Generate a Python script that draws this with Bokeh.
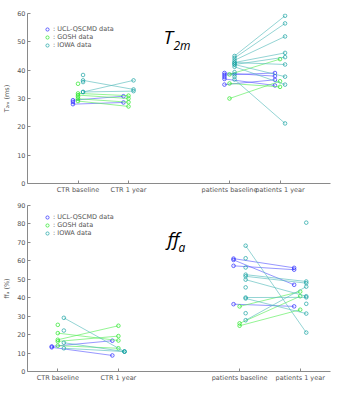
import math
from bokeh.plotting import figure
from bokeh.layouts import column
from bokeh.models import Label, Legend, LegendItem, FixedTicker
from bokeh.embed import file_html
from bokeh.resources import INLINE

nan = float("nan")

# ---- data ----
sites = ["UCL-QSCMD", "GOSH", "IOWA"]
xtick_pos = [1, 2, 4, 5]
xtick_labels = ["CTR baseline", "CTR 1 year", "patients baseline", "patients 1 year"]

# T2m (ms)
t2m_ucl_ctr_base = [29.4, 28.0, 28.8]
t2m_ucl_ctr_1y = [30.8, 28.6, nan]
t2m_gosh_ctr_base = [31.8, 31.2, 29.9, 29.1, 35.2, 30.6]
t2m_gosh_ctr_1y = [31.0, 30.0, 28.7, 27.2, nan, nan]
t2m_iowa_ctr_base = [36.4, 32.3, 32.3, 38.3, 35.8]
t2m_iowa_ctr_1y = [33.2, 36.4, 32.6, nan, nan]
t2m_ucl_pat_base = [39.0, 38.3, 36.9, 34.9, 37.6]
t2m_ucl_pat_1y = [37.9, 39.0, 34.6, 36.6, nan]
t2m_gosh_pat_base = [38.5, 35.3, 30.0]
t2m_gosh_pat_1y = [43.9, 34.1, 36.1]
t2m_iowa_pat_base = [45.0, 44.3, 43.5, 42.7, 42.0, 42.7, 42.0, 41.2, 36.7, 39.3, 38.5, 37.7]
t2m_iowa_pat_1y = [59.2, 56.5, 51.9, 46.1, 44.6, 42.0, 37.7, 34.9, 21.2, nan, nan, nan]

# ff_a (%)
ffa_ucl_ctr_base = [13.6, 13.1]
ffa_ucl_ctr_1y = [16.7, 8.7]
ffa_gosh_ctr_base = [17.2, 20.8, 14.0, 25.3, 16.3]
ffa_gosh_ctr_1y = [24.8, 16.8, 12.6, nan, 19.2]
ffa_iowa_ctr_base = [29.1, 15.6, 12.6, 22.2]
ffa_iowa_ctr_1y = [10.8, 10.8, 10.8, nan]
ffa_ucl_pat_base = [61.2, 57.3, 60.5, 36.5]
ffa_ucl_pat_1y = [56.2, 55.2, 47.0, 35.3]
ffa_gosh_pat_base = [35.3, 26.1, 24.8]
ffa_gosh_pat_1y = [43.3, 40.8, 33.5]
ffa_iowa_pat_base = [68.2, 52.5, 51.6, 49.8, 40.1, 39.6, 27.8, 61.4, 56.4, 45.6, 31.6, nan, nan]
ffa_iowa_pat_1y = [21.1, 48.8, 47.9, 40.8, 40.2, 31.4, 46.0, nan, nan, nan, nan, 80.7, 36.7]

# ---- style ----
offsets = [-0.1, 0.0, 0.1]
colors = ["#2020ff", "#1ee61e", "#10a0a0"]
line_colors = ["#5a5aff", "#55ee55", "#55bbbb"]
FONT = "DejaVu Sans"
AX_COL = "#8a8a8a"
TXT_COL = "#555555"


def make_panel(data, y_end, y_label, x_range, title_main, title_sub, title_pos,
               height, b_top, b_bottom, legend_vy):
    p = figure(width=338, height=height, title=None,
               x_range=x_range, y_range=(0, y_end),
               output_backend="svg", toolbar_location=None,
               min_border_left=22, min_border_right=8,
               min_border_top=b_top, min_border_bottom=b_bottom)
    p.outline_line_color = None
    p.xgrid.visible = False
    p.ygrid.visible = False
    for ax in (p.xaxis[0], p.yaxis[0]):
        ax.axis_line_color = AX_COL
        ax.major_tick_line_color = AX_COL
        ax.major_tick_in = 3
        ax.major_tick_out = 0
        ax.minor_tick_out = 0
        ax.minor_tick_in = 0
        ax.minor_tick_line_color = None
        ax.major_label_text_font = FONT
        ax.major_label_text_font_size = "6.5px"
        ax.major_label_text_color = TXT_COL
        ax.major_label_standoff = 2
    p.xaxis.ticker = FixedTicker(ticks=xtick_pos)
    p.xaxis.major_label_overrides = {k: v for k, v in zip(xtick_pos, xtick_labels)}
    p.yaxis.ticker = FixedTicker(ticks=list(range(0, y_end + 1, 10)))
    p.yaxis.axis_label = y_label
    p.yaxis.axis_label_text_font = FONT
    p.yaxis.axis_label_text_font_size = "6.5px"
    p.yaxis.axis_label_text_font_style = "normal"
    p.yaxis.axis_label_text_color = TXT_COL
    p.yaxis.axis_label_standoff = 3

    items = []
    for si, site in enumerate(sites):
        off = offsets[si]
        sc_r = None
        for gi, (base, fu) in enumerate(data[si]):
            x0 = xtick_pos[2 * gi] + off
            x1 = xtick_pos[2 * gi + 1] + off
            sx0, sy0, sx1, sy1 = [], [], [], []
            for b, f in zip(base, fu):
                if not math.isnan(b) and not math.isnan(f):
                    sx0.append(x0); sy0.append(b); sx1.append(x1); sy1.append(f)
            p.segment(x0=sx0, y0=sy0, x1=sx1, y1=sy1, line_color=line_colors[si],
                      line_alpha=0.7, line_width=0.9)
            px = [x0 for b in base if not math.isnan(b)] + [x1 for f in fu if not math.isnan(f)]
            py = [b for b in base if not math.isnan(b)] + [f for f in fu if not math.isnan(f)]
            r = p.scatter(px, py, marker="circle", size=3.6, fill_color=None,
                          line_color=colors[si], line_alpha=0.75, line_width=0.9)
            if sc_r is None:
                sc_r = r
        items.append(LegendItem(label=": %s data" % site, renderers=[sc_r]))

    leg = Legend(items=items, location=(15, legend_vy), padding=2, spacing=0,
                 glyph_width=10, glyph_height=8, label_height=8, label_standoff=1,
                 label_text_font=FONT, label_text_font_size="6.5px",
                 label_text_color=TXT_COL, border_line_color=None,
                 background_fill_alpha=0, margin=0)
    p.add_layout(leg, "center")

    tx, ty = title_pos
    p.add_layout(Label(x=tx, y=ty, x_units="screen", y_units="screen", text=title_main,
                       text_font="Open Sans", text_font_style="italic",
                       text_font_size="19px", text_color="#000000"))
    p.add_layout(Label(x=tx + (10 if title_main == "T" else 11), y=ty - 4,
                       x_units="screen", y_units="screen", text=title_sub,
                       text_font="Open Sans", text_font_style="italic",
                       text_font_size="12px", text_color="#000000"))
    return p


t2m_data = [
    [(t2m_ucl_ctr_base, t2m_ucl_ctr_1y), (t2m_ucl_pat_base, t2m_ucl_pat_1y)],
    [(t2m_gosh_ctr_base, t2m_gosh_ctr_1y), (t2m_gosh_pat_base, t2m_gosh_pat_1y)],
    [(t2m_iowa_ctr_base, t2m_iowa_ctr_1y), (t2m_iowa_pat_base, t2m_iowa_pat_1y)],
]
ffa_data = [
    [(ffa_ucl_ctr_base, ffa_ucl_ctr_1y), (ffa_ucl_pat_base, ffa_ucl_pat_1y)],
    [(ffa_gosh_ctr_base, ffa_gosh_ctr_1y), (ffa_gosh_pat_base, ffa_gosh_pat_1y)],
    [(ffa_iowa_ctr_base, ffa_iowa_ctr_1y), (ffa_iowa_pat_base, ffa_iowa_pat_1y)],
]

p1 = make_panel(t2m_data, 60, "T\u2082\u2098 (ms)", (0, 6), "T", "2m", (136, 134),
                197, 13, 14, 134)
p2 = make_panel(ffa_data, 90, "ff\u2090 (%)", (0.5, 5.5), "ff", "a", (140, 120),
                187, 8, 11, 134)

layout = column(p1, p2, spacing=0)
open("out.html", "w").write(file_html(layout, INLINE))
